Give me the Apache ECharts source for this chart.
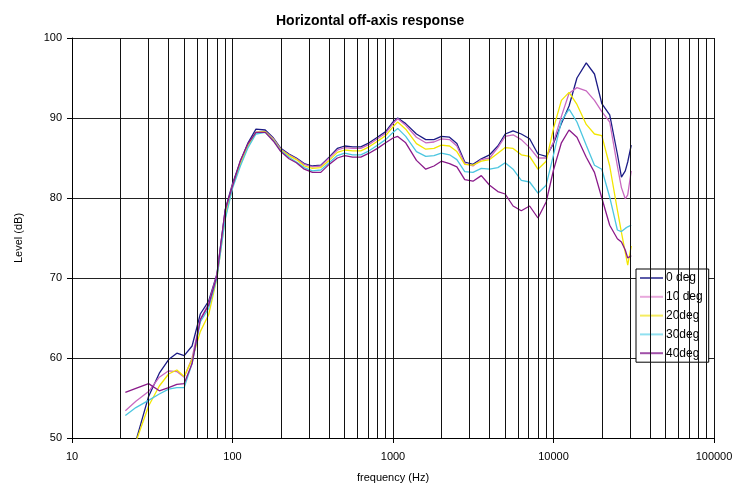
<!DOCTYPE html>
<html>
<head>
<meta charset="utf-8">
<script src="https://cdn.jsdelivr.net/npm/echarts@6/dist/echarts.min.js"></script>
<style>
html,body{margin:0;padding:0;background:#fff;}
#chart{width:741px;height:488px;}
</style>
</head>
<body>
<div id="chart"></div>
<script>
const freqs = [21.5, 25, 30, 35, 40, 45, 50, 56, 63, 71, 80, 90, 100, 112, 125, 140, 160, 180, 200, 225, 250, 280, 315, 355, 400, 450, 500, 560, 630, 710, 800, 900, 1000, 1070, 1200, 1400, 1600, 1800, 2000, 2250, 2500, 2800, 3150, 3550, 4000, 4500, 5000, 5600, 6300, 7100, 8000, 9000, 10000, 11200, 12500, 14000, 16000, 18000, 20000, 22400, 25000, 26500, 28000, 29000, 30500];

const deg0 = [45, 49.6, 55.2, 58.1, 59.8, 60.6, 60.3, 61.5, 65.5, 67.1, 70.5, 78.5, 81.8, 84.6, 86.9, 88.6, 88.5, 87.5, 86.2, 85.5, 85.0, 84.3, 84.0, 84.1, 85.1, 86.2, 86.5, 86.4, 86.4, 86.9, 87.6, 88.3, 89.5, 90.0, 89.3, 88.0, 87.3, 87.3, 87.7, 87.6, 86.8, 84.5, 84.2, 84.9, 85.4, 86.5, 88.0, 88.4, 88.0, 87.4, 85.5, 85.2, 86.8, 89.3, 91.5, 95.0, 96.9, 95.5, 91.8, 90.4, 85.5, 82.6, 83.4, 84.5, 86.6];

const deg10 = [53.4, 54.6, 55.8, 57.6, 58.4, 58.3, 57.6, 60.0, 64.8, 66.8, 70.4, 78.0, 81.6, 84.3, 86.6, 88.2, 88.3, 87.4, 86.1, 85.4, 84.9, 84.2, 83.9, 84.0, 85.0, 86.0, 86.3, 86.2, 86.2, 86.7, 87.4, 88.1, 89.3, 89.9, 89.1, 87.6, 86.9, 87.0, 87.4, 87.3, 86.5, 84.3, 84.0, 84.8, 85.0, 86.3, 87.7, 87.9, 87.3, 86.3, 85.0, 85.0, 87.0, 90.2, 93.1, 93.8, 93.4, 92.2, 90.8, 89.5, 84.0, 81.3, 79.9, 80.4, 83.4];

const deg20 = [46, 49.5, 54.0, 56.5, 58.0, 58.5, 57.7, 59.8, 63.3, 65.4, 70.0, 77.5, 81.4, 84.2, 86.5, 88.2, 88.3, 87.3, 86.0, 85.3, 84.8, 84.0, 83.7, 83.8, 84.7, 85.7, 86.0, 85.9, 85.9, 86.4, 87.1, 87.8, 88.9, 89.5, 88.6, 86.8, 86.1, 86.2, 86.6, 86.5, 85.8, 84.2, 84.1, 84.6, 84.8, 85.6, 86.3, 86.2, 85.4, 85.2, 83.6, 84.6, 88.7, 92.2, 93.2, 91.7, 89.2, 88.0, 87.8, 84.0, 78.5, 75.7, 73.2, 71.6, 74.0];

const deg30 = [52.8, 53.8, 54.7, 55.5, 56.1, 56.3, 56.3, 59.3, 64.5, 66.2, 70.0, 77.3, 81.2, 84.0, 86.3, 88.0, 88.2, 87.2, 85.9, 85.1, 84.5, 83.8, 83.4, 83.5, 84.4, 85.3, 85.6, 85.4, 85.4, 85.9, 86.6, 87.3, 88.2, 88.7, 87.7, 85.8, 85.2, 85.3, 85.6, 85.4, 84.8, 83.3, 83.2, 83.7, 83.6, 83.8, 84.4, 83.6, 82.2, 82.0, 80.6, 81.6, 85.4, 89.6, 91.1, 89.5, 86.6, 84.1, 83.6, 80.1, 76.0, 75.8, 76.2, 76.4, 76.6];

const deg40 = [55.7, 56.2, 56.8, 55.9, 56.3, 56.7, 56.8, 59.3, 64.8, 66.6, 70.3, 78.5, 81.5, 84.7, 86.8, 88.2, 88.2, 87.1, 85.8, 84.9, 84.4, 83.6, 83.2, 83.2, 84.2, 85.0, 85.3, 85.1, 85.1, 85.6, 86.2, 86.9, 87.5, 87.7, 86.9, 84.7, 83.6, 84.0, 84.6, 84.3, 83.9, 82.3, 82.1, 82.8, 81.6, 80.8, 80.5, 79.0, 78.4, 79.0, 77.5, 79.5, 83.5, 86.9, 88.5, 87.6, 85.1, 83.2, 80.0, 76.6, 74.9, 74.5, 73.5, 72.5, 72.8];

const seriesNames = ['0 deg', '10 deg', '20deg', '30deg', '40deg'];
const seriesValues = [deg0, deg10, deg20, deg30, deg40];
const seriesColors = ['#1c1c86', '#c868c0', '#f2e600', '#4cc6e0', '#8a1a8a'];
const legendColors = ['#5a5aa8', '#e8a8dc', '#f5ec60', '#90e0f0', '#a050a8'];

const minorGrid = [];
for (let d = 10; d < 100000; d *= 10) {
  for (let k = 2; k <= 9; k++) minorGrid.push(d * k);
}

const chart = echarts.init(document.getElementById('chart'), null, {renderer: 'canvas'});

const series = [{
  name: '_grid',
  type: 'line',
  data: [],
  symbol: 'none',
  silent: true,
  z: 1,
  markLine: {
    silent: true,
    symbol: ['none', 'none'],
    label: {show: false},
    lineStyle: {color: '#111', width: 1, type: 'solid'},
    emphasis: {disabled: true},
    animation: false,
    data: minorGrid.map(v => ({xAxis: v}))
  }
}];
seriesNames.forEach((n, i) => {
  series.push({
    name: n,
    type: 'line',
    data: freqs.map((f, j) => [f, seriesValues[i][j]]),
    symbol: 'none',
    showSymbol: false,
    smooth: false,
    clip: true,
    z: 3,
    lineStyle: {color: seriesColors[i], width: 1.3},
    itemStyle: {color: seriesColors[i]},
    emphasis: {disabled: true}
  });
});

chart.setOption({
  animation: false,
  backgroundColor: '#fff',
  textStyle: {fontFamily: 'Liberation Sans, Arial, sans-serif'},
  title: {
    text: 'Horizontal off-axis response',
    left: 271,
    top: 9,
    textStyle: {fontSize: 14, fontWeight: 'bold', color: '#000', fontFamily: 'Liberation Sans, Arial, sans-serif'}
  },
  grid: {left: 72, right: 27, top: 38, bottom: 47, containLabel: false},
  legend: {
    data: seriesNames.map((n, i) => ({name: n, itemStyle: {color: legendColors[i]}})),
    orient: 'vertical',
    left: 636,
    top: 269,
    icon: 'rect',
    itemWidth: 23,
    itemHeight: 2,
    itemGap: 4.8,
    padding: [2, 6, 2, 4],
    backgroundColor: '#fff',
    borderColor: '#000',
    borderWidth: 1,
    textStyle: {fontSize: 12, color: '#000', lineHeight: 14, height: 14, padding: [0, 0, 0, -2]}
  },
  xAxis: {
    type: 'log',
    logBase: 10,
    min: 10,
    max: 100000,
    name: 'frequency (Hz)',
    nameLocation: 'middle',
    nameGap: 34,
    nameTextStyle: {fontSize: 11, color: '#000'},
    axisLine: {show: true, onZero: false, lineStyle: {color: '#000', width: 1}},
    axisTick: {show: true, length: 5, lineStyle: {color: '#000'}},
    axisLabel: {fontSize: 11, color: '#000', margin: 13, formatter: v => String(Math.round(v))},
    splitLine: {show: true, lineStyle: {color: '#111', width: 1}},
    minorTick: {show: false},
    minorSplitLine: {show: false}
  },
  yAxis: {
    type: 'value',
    min: 50,
    max: 100,
    interval: 10,
    name: 'Level (dB)',
    nameLocation: 'middle',
    nameGap: 48,
    nameTextStyle: {fontSize: 11, color: '#000'},
    axisLine: {show: true, lineStyle: {color: '#000', width: 1}},
    axisTick: {show: true, length: 5, lineStyle: {color: '#000'}},
    axisLabel: {fontSize: 11, color: '#000', margin: 10},
    splitLine: {show: true, lineStyle: {color: '#222', width: 1}}
  },
  series: series
});
</script>
</body>
</html>
